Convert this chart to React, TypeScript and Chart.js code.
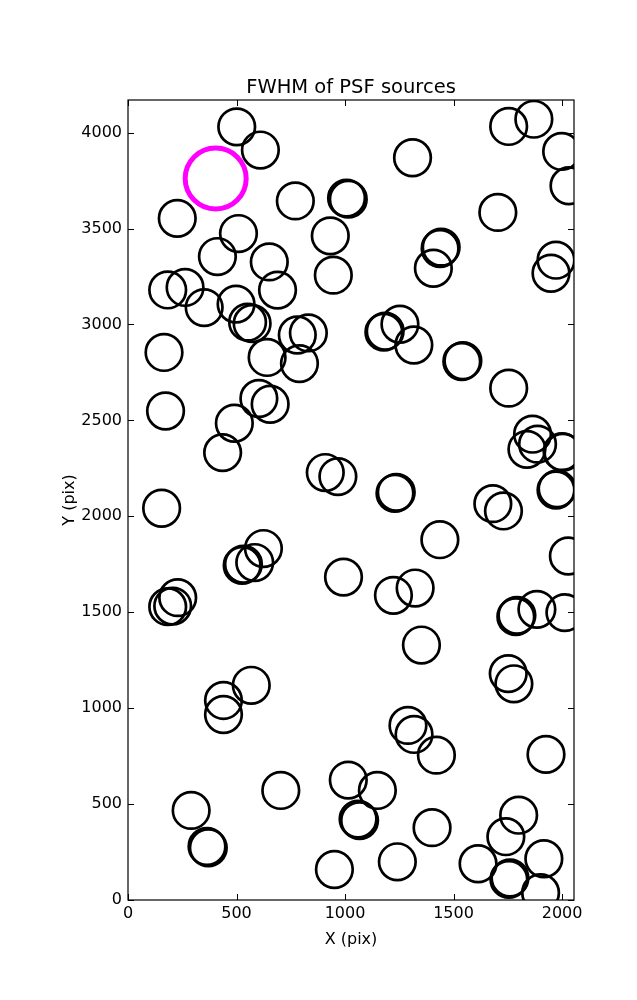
import { useEffect, useRef } from "react";
import { Chart, registerables } from "chart.js";

Chart.register(...registerables);

// Source positions (pixels on the detector)
const srcX = [
  501, 610, 771, 1015, 1007, 227, 509, 932, 412, 651, 946, 183, 263, 351, 498, 551, 572, 689, 780, 831,
  166, 641, 790, 1754, 1870, 1311, 1998, 2032, 1704, 1438, 1443, 1407, 1972, 1949, 1253, 1179, 1185, 1317,
  1538, 1543, 173, 603, 655, 490, 436, 909, 967, 155, 624, 526, 532, 584, 993, 229, 183, 206, 1754, 1864,
  1887, 1838, 2000, 2004, 1972, 1977, 1230, 1236, 1681, 1730, 1437, 2029, 1223, 1323, 1787, 1792, 1884,
  2013, 568, 440, 440, 1015, 704, 291, 1067, 1060, 370, 364, 951, 1352, 1752, 1778, 1290, 1318, 1421,
  1926, 1149, 1401, 1800, 1741, 1241, 1613, 1916, 1755, 1760, 1901,
];
const srcY = [
  4030, 3909, 3644, 3653, 3659, 3553, 3474, 3462, 3354, 3326, 3257, 3180, 3193, 3088, 3106, 3012, 3005, 3179,
  2945, 2956, 2854, 2828, 2796, 4032, 4070, 3869, 3902, 3723, 3584, 3396, 3403, 3293, 3335, 3267, 3001, 2960,
  2965, 2893, 2807, 2811, 2549, 2614, 2584, 2485, 2332, 2228, 2207, 2042, 1832, 1744, 1750, 1759, 1683, 1576,
  1529, 1532, 2668, 2428, 2376, 2349, 2337, 2334, 2137, 2143, 2120, 2125, 2066, 2028, 1878, 1793, 1588, 1626,
  1477, 1484, 1515, 1498, 1119, 1040, 967, 625, 571, 467, 414, 422, 272, 279, 159, 1329, 1180, 1127,
  910, 863, 755, 759, 571, 377, 442, 330, 199, 189, 215, 107, 115, 38,
];
// Highlighted source
const hiX = [404];
const hiY = [3761];

const xTicks = [0, 500, 1000, 1500, 2000];
const yTicks = [0, 500, 1000, 1500, 2000, 2500, 3000, 3500, 4000];
const xMax = 2055;
const yMax = 4170;

const FONT = "'DejaVu Sans', sans-serif";

const frameTicks = {
  id: "frameTicks",
  afterDraw(chart: any) {
    const { ctx, chartArea: a, scales } = chart;
    const xs = scales.x;
    const ys = scales.y;
    ctx.save();
    ctx.strokeStyle = "#000";
    ctx.lineWidth = 1;
    ctx.beginPath();
    xs.ticks.forEach((t: any) => {
      const px = Math.round(xs.getPixelForValue(t.value)) + 0.5;
      ctx.moveTo(px, a.bottom);
      ctx.lineTo(px, a.bottom - 6);
      ctx.moveTo(px, a.top);
      ctx.lineTo(px, a.top + 6);
    });
    ys.ticks.forEach((t: any) => {
      const py = Math.round(ys.getPixelForValue(t.value)) + 0.5;
      ctx.moveTo(a.left, py);
      ctx.lineTo(a.left + 6, py);
      ctx.moveTo(a.right, py);
      ctx.lineTo(a.right - 6, py);
    });
    ctx.stroke();
    ctx.lineWidth = 1.2;
    ctx.strokeRect(a.left, a.top, a.right - a.left, a.bottom - a.top);
    ctx.restore();
  },
};

export default function App() {
  const ref = useRef<HTMLCanvasElement>(null);

  useEffect(() => {
    document.body.style.margin = "0";
    const chart = new Chart(ref.current as HTMLCanvasElement, {
      type: "scatter",
      data: {
        datasets: [
          {
            label: "sources",
            data: srcX.map((x, i) => ({ x, y: srcY[i] })),
            pointRadius: 18.3,
            pointBorderWidth: 2.7,
            pointBorderColor: "#000000",
            pointBackgroundColor: "rgba(0,0,0,0)",
            clip: 0,
          },
          {
            label: "highlight",
            data: hiX.map((x, i) => ({ x, y: hiY[i] })),
            pointRadius: 30.5,
            pointBorderWidth: 5,
            pointBorderColor: "#ff00ff",
            pointBackgroundColor: "rgba(0,0,0,0)",
            clip: 0,
          },
        ],
      },
      options: {
        responsive: false,
        animation: false,
        events: [],
        layout: { padding: { left: 0, right: 63, top: 0, bottom: 0 } },
        plugins: {
          legend: { display: false },
          tooltip: { enabled: false },
          title: {
            display: true,
            text: "FWHM of PSF sources",
            fullSize: false,
            color: "#000",
            font: { family: FONT, size: 19.5, weight: "normal" },
            padding: { top: 76.5, bottom: 0.1 },
          },
        },
        scales: {
          x: {
            type: "linear",
            min: 0,
            max: xMax,
            afterFit: (s: any) => {
              s.height = 100;
            },
            afterBuildTicks: (s: any) => {
              s.ticks = xTicks.map((v) => ({ value: v }));
            },
            grid: { display: false, drawTicks: false },
            border: { display: false },
            ticks: {
              includeBounds: false,
              padding: 4,
              color: "#000",
              maxRotation: 0,
              font: { family: FONT, size: 16 },
              callback: (v: any) => String(v),
            },
            title: {
              display: true,
              text: "X (pix)",
              color: "#000",
              font: { family: FONT, size: 16 },
              padding: { top: 0, bottom: 50.6 },
            },
          },
          y: {
            type: "linear",
            min: 0,
            max: yMax,
            afterFit: (s: any) => {
              s.width = 128;
            },
            afterBuildTicks: (s: any) => {
              s.ticks = yTicks.map((v) => ({ value: v }));
            },
            grid: { display: false, drawTicks: false },
            border: { display: false },
            ticks: {
              includeBounds: false,
              padding: 6,
              color: "#000",
              font: { family: FONT, size: 16 },
              callback: (v: any) => String(v),
            },
            title: {
              display: true,
              text: "Y (pix)",
              color: "#000",
              font: { family: FONT, size: 16 },
              padding: { top: 60.4, bottom: 0 },
            },
          },
        },
      },
      plugins: [frameTicks],
    } as any);
    return () => chart.destroy();
  }, []);

  return (
    <div style={{ width: 637, height: 1000 }}>
      <canvas ref={ref} width={637} height={1000} style={{ display: "block" }} />
    </div>
  );
}
